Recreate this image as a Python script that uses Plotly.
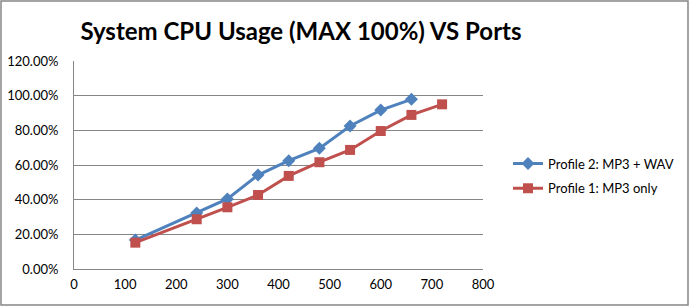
import plotly.graph_objects as go

ports_p2 = [120, 240, 300, 360, 420, 480, 540, 600, 660]
cpu_p2 = [0.167, 0.323, 0.404, 0.542, 0.625, 0.696, 0.825, 0.917, 0.979]
ports_p1 = [120, 240, 300, 360, 420, 480, 540, 600, 660, 720]
cpu_p1 = [0.152, 0.287, 0.356, 0.427, 0.537, 0.616, 0.687, 0.796, 0.889, 0.950]

name_p2 = "Profile 2: MP3 + WAV"
name_p1 = "Profile 1: MP3 only"
title = "System CPU Usage (MAX 100%) VS Ports"

fig = go.Figure()
fig.add_trace(go.Scatter(x=ports_p2, y=cpu_p2, name=name_p2, mode="lines+markers",
                         legendgroup="p2",
                         line=dict(color="#4F81BD", width=3),
                         marker=dict(symbol="diamond", size=10, color="#4F81BD")))
fig.add_trace(go.Scatter(x=ports_p1, y=cpu_p1, name=name_p1, mode="lines+markers",
                         legendgroup="p1",
                         line=dict(color="#C0504D", width=3),
                         marker=dict(symbol="square", size=10, color="#C0504D")))

L, R, T, B = 74, 207, 61, 38
W, H = 690, 307
pw, ph = W - L - R, H - T - B

def px(x):
    return (x - L) / pw

def py(y):
    return (H - B - y) / ph

fig.update_layout(
    width=W, height=H,
    margin=dict(l=L, r=R, t=T, b=B, autoexpand=False),
    paper_bgcolor="white", plot_bgcolor="white",
    font=dict(family="Lato", size=13, color="#000000"),
    title=dict(text="<b>" + title + "</b>", x=301 / W, xanchor="center",
               y=1 - 32 / H, yanchor="middle",
               font=dict(family="Lato", size=24, color="#000000")),
    showlegend=True,
    legend=dict(x=px(508), y=py(176), xanchor="left", yanchor="middle",
                font=dict(family="Lato", size=13, color="#000000"),
                bgcolor="rgba(0,0,0,0)", tracegroupgap=5),
    xaxis=dict(range=[0, 800], dtick=100, tick0=0, showgrid=False,
               showline=True, linecolor="#868686", linewidth=1,
               ticks="", zeroline=False, tickfont=dict(size=13),
               ticklabelstandoff=3, automargin=False),
    yaxis=dict(range=[0, 1.2], dtick=0.2, tick0=0, tickformat=".2%",
               showgrid=True, gridcolor="#868686", gridwidth=1,
               showline=True, linecolor="#868686", linewidth=1,
               ticks="", zeroline=False, tickfont=dict(size=13),
               ticklabelstandoff=12, automargin=False),
    shapes=[dict(type="rect", xref="paper", yref="paper",
                 x0=px(1), x1=px(688), y0=py(305), y1=py(1),
                 line=dict(color="#868686", width=1.5))],
)

fig.write_html("out.html", config={"displayModeBar": False},
               post_script="document.body.style.margin='0';")
